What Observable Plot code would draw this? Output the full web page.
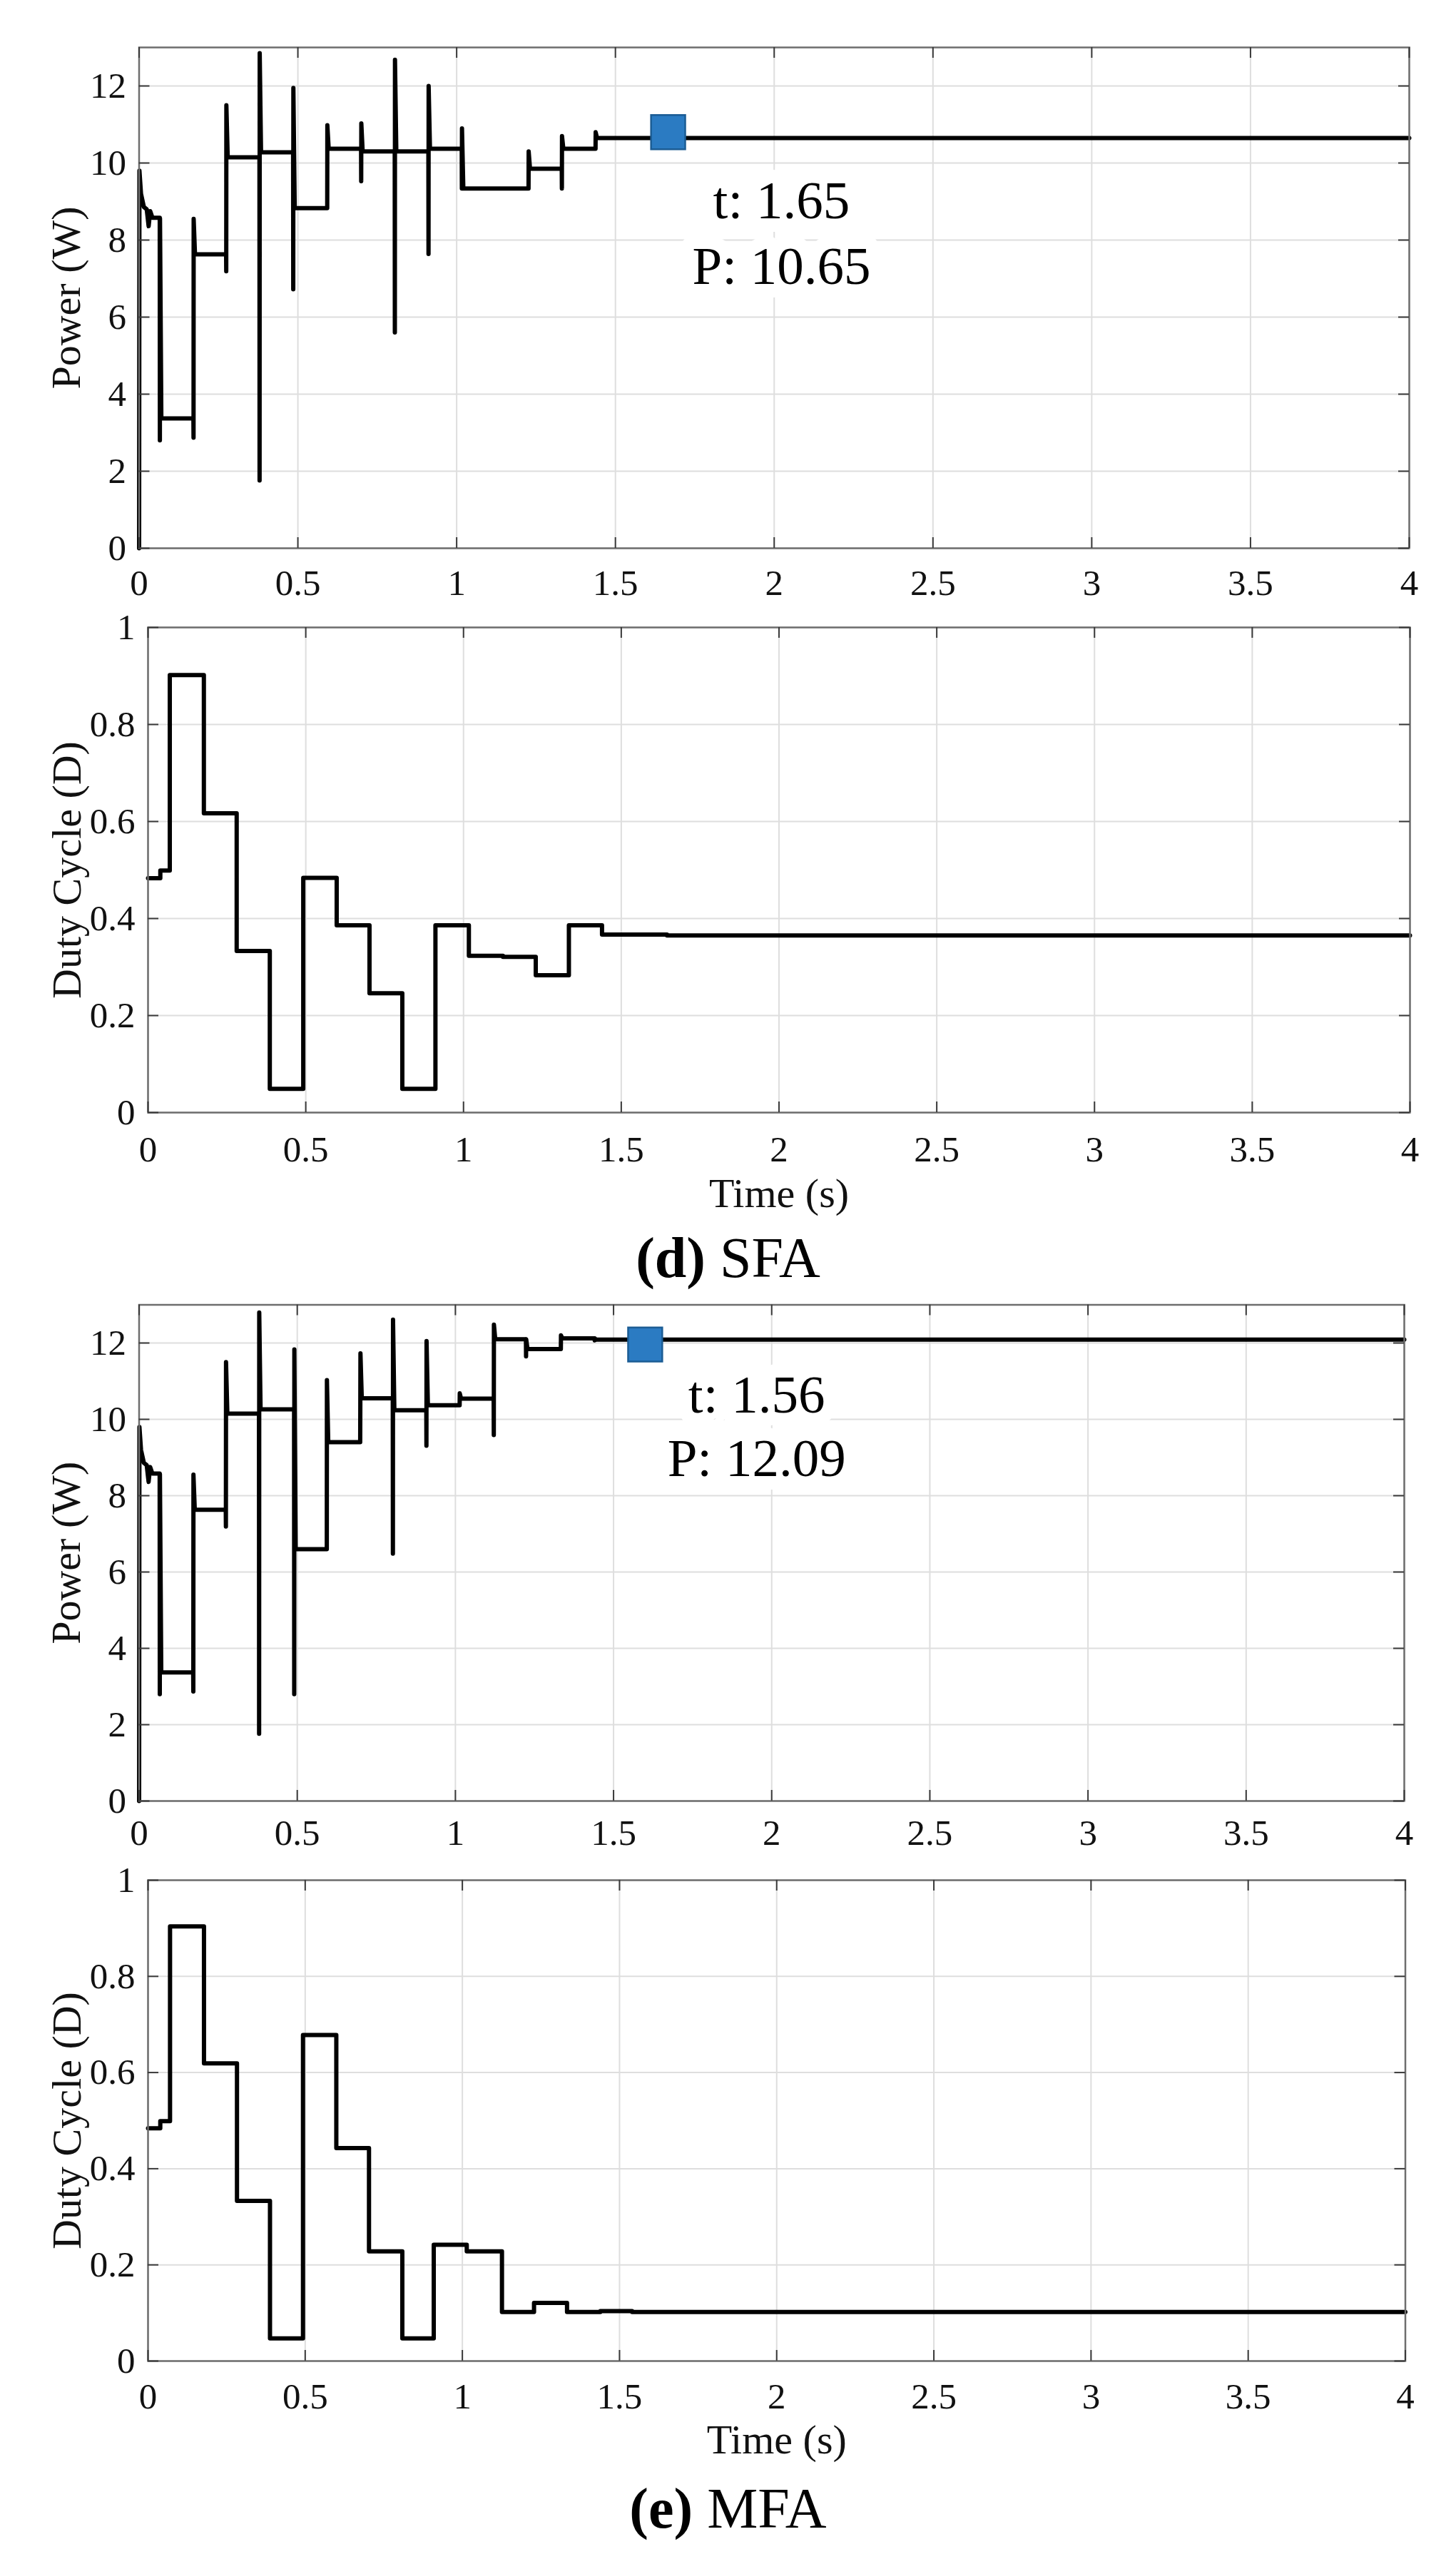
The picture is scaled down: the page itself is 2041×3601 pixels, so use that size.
<!DOCTYPE html>
<html>
<head>
<meta charset="utf-8">
<script src="https://cdn.jsdelivr.net/npm/d3@7"></script>
<script src="https://cdn.jsdelivr.net/npm/@observablehq/plot@0.6"></script>
<style>
  html, body { margin: 0; padding: 0; background: #fff; }
  #page { position: relative; width: 2041px; height: 3601px; background: #fff; overflow: hidden;
          font-family: "Liberation Serif", "Times New Roman", serif; color: #000; }
  #page svg, #page svg text { font-family: "Liberation Serif", "Times New Roman", serif !important; }
  .panel { position: absolute; left: 0; }
  .caption { position: absolute; left: 0; width: 2041px; text-align: center;
             font-size: 80px; line-height: 80px; font-family: "Liberation Serif", serif; color: #000; }
</style>
</head>
<body>
<div id="page"></div>
<script>
// ---------------- tick values ----------------
const xTicks = [0, 0.5, 1, 1.5, 2, 2.5, 3, 3.5, 4];
const powerTicks = [0, 2, 4, 6, 8, 10, 12];
const dutyTicks = [0, 0.2, 0.4, 0.6, 0.8, 1];

// ---------------- (d) SFA : power ----------------
const sfaStartT = [0, 0, 0.001, 0.006, 0.015, 0.024, 0.030, 0.035, 0.042];
const sfaStartP = [0, 0, 9.8, 9.2, 8.86, 8.8, 8.36, 8.75, 8.58];
const sfaStepT   = [0.065, 0.171, 0.274, 0.379, 0.485, 0.592, 0.699, 0.805, 0.911, 1.016, 1.226, 1.331, 1.437];
const sfaSpikeLo = [2.8,   2.87,  7.19,  1.76,  6.72,  8.83,  9.53,  5.6,   7.64,  9.34,  9.34,  9.34,  10.37];
const sfaSpikeHi = [8.56,  8.55,  11.5,  12.85, 11.95, 10.98, 11.03, 12.68, 12.0,  10.9,  10.3,  10.7,  10.8];
const sfaLevel   = [3.37,  7.63,  10.15, 10.28, 8.83,  10.37, 10.3,  10.3,  10.37, 9.34,  9.85,  10.37, 10.65];

// ---------------- (d) SFA : duty cycle ----------------
const sfaDutyT = [0, 0.039, 0.069, 0.177, 0.281, 0.386, 0.492, 0.598, 0.702, 0.806, 0.911, 1.017, 1.125, 1.229, 1.334, 1.439, 1.645, 4];
const sfaDutyD = [0.483, 0.499, 0.902, 0.617, 0.333, 0.049, 0.484, 0.386, 0.246, 0.049, 0.386, 0.323, 0.321, 0.283, 0.386, 0.367, 0.365, 0.365];

// ---------------- (e) MFA : power ----------------
const mfaStartT = [0, 0, 0.001, 0.006, 0.015, 0.024, 0.030, 0.035, 0.042];
const mfaStartP = [0, 0, 9.8, 9.2, 8.86, 8.8, 8.36, 8.75, 8.58];
const mfaStepT   = [0.065, 0.171, 0.274, 0.379, 0.490, 0.593, 0.699, 0.802, 0.908, 1.013, 1.121, 1.223, 1.333, 1.44];
const mfaSpikeLo = [2.8,   2.87,  7.19,  1.76,  2.8,   6.6,   10.4,  6.48,  9.31,  10.37, 9.59,  11.65, 11.84, 12.07];
const mfaSpikeHi = [8.56,  8.55,  11.5,  12.8,  11.83, 11.03, 11.73, 12.61, 12.05, 10.68, 12.48, 12.1,  12.2,  12.12];
const mfaLevel   = [3.37,  7.63,  10.15, 10.26, 6.6,   9.4,   10.55, 10.24, 10.37, 10.54, 12.1,  11.84, 12.12, 12.09];

// ---------------- (e) MFA : duty cycle ----------------
const mfaDutyT = [0, 0.039, 0.07, 0.178, 0.283, 0.388, 0.493, 0.599, 0.703, 0.809, 0.909, 1.014, 1.126, 1.228, 1.333, 1.439, 1.54, 4];
const mfaDutyD = [0.484, 0.499, 0.904, 0.619, 0.333, 0.047, 0.678, 0.443, 0.228, 0.047, 0.242, 0.228, 0.102, 0.121, 0.102, 0.104, 0.102, 0.102];

// ---------------- data tips (value shown, marker position) ----------------
const tipT       = [1.65, 1.56];
const tipP       = [10.65, 12.09];
const tipMarkerT = [1.666, 1.60];
const tipMarkerP = [10.80, 11.96];

// ---------------- build tables for Plot ----------------
function buildPower(startT, startP, stepT, lo, hi, lev) {
  const pts = startT.map((t, i) => ({t, v: startP[i]}));
  let prev = startP[startP.length - 1];
  stepT.forEach((t, i) => {
    pts.push({t, v: prev});
    pts.push({t: t + 0.0004, v: lo[i]});
    pts.push({t: t + 0.0008, v: hi[i]});
    pts.push({t: t + 0.005, v: lev[i]});
    prev = lev[i];
  });
  pts.push({t: 4, v: prev});
  return pts;
}
function buildDuty(T, D) { return T.map((t, i) => ({t, v: D[i]})); }

const sfaPower = buildPower(sfaStartT, sfaStartP, sfaStepT, sfaSpikeLo, sfaSpikeHi, sfaLevel);
const mfaPower = buildPower(mfaStartT, mfaStartP, mfaStepT, mfaSpikeLo, mfaSpikeHi, mfaLevel);
const sfaDuty = buildDuty(sfaDutyT, sfaDutyD);
const mfaDuty = buildDuty(mfaDutyT, mfaDutyD);
const tips = tipT.map((t, i) => ({t, P: tipP[i], mt: tipMarkerT[i], mP: tipMarkerP[i]}));

const W = 2041;
const FONT = '"Liberation Serif", "Times New Roman", serif';

function panel(cfg) {
  const innerW = W - cfg.ml - cfg.mr;
  const innerH = cfg.height - cfg.mt - cfg.mb;
  const gridStyle = {stroke: "#dedede", strokeOpacity: 1, strokeWidth: 2};
  const tickStyle = {stroke: "#3a3a3a", strokeWidth: 2};
  const marks = [
    Plot.gridX(xTicks, gridStyle),
    Plot.gridY(cfg.yTicks, gridStyle)
  ];
  if (cfg.tip) {
    marks.push(Plot.text([cfg.tip], {
      x: "t", y: "P", text: d => `t: ${d.t}\nP: ${d.P}`,
      dx: cfg.tipDx, dy: cfg.tipDy, lineAnchor: "top", textAnchor: "middle",
      fontFamily: FONT, fontSize: 75, lineHeight: cfg.tipLH, fill: "#000", stroke: "#fff", strokeWidth: 38
    }));
  }
  marks.push(Plot.line(cfg.data, {x: "t", y: "v", stroke: "#000", strokeWidth: 6, curve: cfg.curve}));
  if (cfg.tip) {
    marks.push(Plot.dot([cfg.tip], {x: "mt", y: "mP", symbol: "square", r: 27,
      fill: "#2b7bc2", stroke: "#1b5c94", strokeWidth: 2.5}));
  }
  marks.push(Plot.frame({stroke: "#6e6e6e", strokeWidth: 2.5}));
  marks.push(Plot.ruleX(xTicks, {x: d => d, insetTop: innerH - 15, ...tickStyle}));
  marks.push(Plot.ruleX(xTicks, {x: d => d, insetBottom: innerH - 15, ...tickStyle}));
  marks.push(Plot.ruleY(cfg.yTicks, {y: d => d, insetRight: innerW - 15, ...tickStyle}));
  marks.push(Plot.ruleY(cfg.yTicks, {y: d => d, insetLeft: innerW - 15, ...tickStyle}));
  marks.push(Plot.axisX({ticks: xTicks, tickSize: 0, tickPadding: cfg.xPad, tickFormat: d => String(d),
    fontFamily: FONT, fontSize: 51, label: null, fill: "#111"}));
  marks.push(Plot.axisY({ticks: cfg.yTicks, tickSize: 0, tickPadding: 18, tickFormat: d => String(d),
    fontFamily: FONT, fontSize: 51, label: null, fill: "#111"}));
  marks.push(Plot.text([cfg.yLabel], {frameAnchor: "left", rotate: -90, dx: cfg.yLabelDx,
    lineAnchor: "top", textAnchor: "middle", fontFamily: FONT, fontSize: 58, fill: "#111"}));
  if (cfg.xLabel) {
    marks.push(Plot.text([cfg.xLabel], {frameAnchor: "bottom", dy: cfg.xLabelDy,
      lineAnchor: "top", textAnchor: "middle", fontFamily: FONT, fontSize: 58, fill: "#111"}));
  }
  const svg = Plot.plot({
    width: W, height: cfg.height,
    marginTop: cfg.mt, marginBottom: cfg.mb, marginLeft: cfg.ml, marginRight: cfg.mr,
    x: {domain: [0, 4]},
    y: {domain: cfg.yDomain},
    style: {fontFamily: FONT, background: "transparent", overflow: "visible", maxWidth: "none", color: "#111"},
    marks
  });
  svg.classList.add("panel");
  svg.style.top = cfg.top + "px";
  svg.style.position = "absolute";
  svg.style.left = "0px";
  document.getElementById("page").appendChild(svg);
}

panel({top: 0, height: 860, mt: 66, mb: 92, ml: 194.5, mr: 66, yDomain: [0, 13], yTicks: powerTicks,
  xPad: 29, data: sfaPower, curve: "linear", yLabel: "Power (W)", yLabelDx: -124.5,
  tip: tips[0], tipDx: 166, tipDy: 47, tipLH: 1.227});
panel({top: 860, height: 860, mt: 19, mb: 161, ml: 207, mr: 65, yDomain: [0, 1], yTicks: dutyTicks,
  xPad: 32, data: sfaDuty, curve: "step-after", yLabel: "Duty Cycle (D)", yLabelDx: -136,
  xLabel: "Time (s)", xLabelDy: 91});
panel({top: 1720, height: 880, mt: 108.5, mb: 76, ml: 194.5, mr: 73, yDomain: [0, 13], yTicks: powerTicks,
  xPad: 25, data: mfaPower, curve: "linear", yLabel: "Power (W)", yLabelDx: -124.5,
  tip: tips[1], tipDx: 174, tipDy: 38.5, tipLH: 1.19});
panel({top: 2600, height: 880, mt: 35, mb: 171, ml: 207, mr: 71.5, yDomain: [0, 1], yTicks: dutyTicks,
  xPad: 30, data: mfaDuty, curve: "step-after", yLabel: "Duty Cycle (D)", yLabelDx: -136,
  xLabel: "Time (s)", xLabelDy: 88});

// captions
const captions = [{top: 1723, letter: "d", name: "SFA"}, {top: 3476, letter: "e", name: "MFA"}];
captions.forEach(c => {
  const div = document.createElement("div");
  div.className = "caption";
  div.style.top = c.top + "px";
  const b = document.createElement("b");
  b.textContent = `(${c.letter})`;
  div.appendChild(b);
  div.appendChild(document.createTextNode(" " + c.name));
  document.getElementById("page").appendChild(div);
});
</script>
</body>
</html>
